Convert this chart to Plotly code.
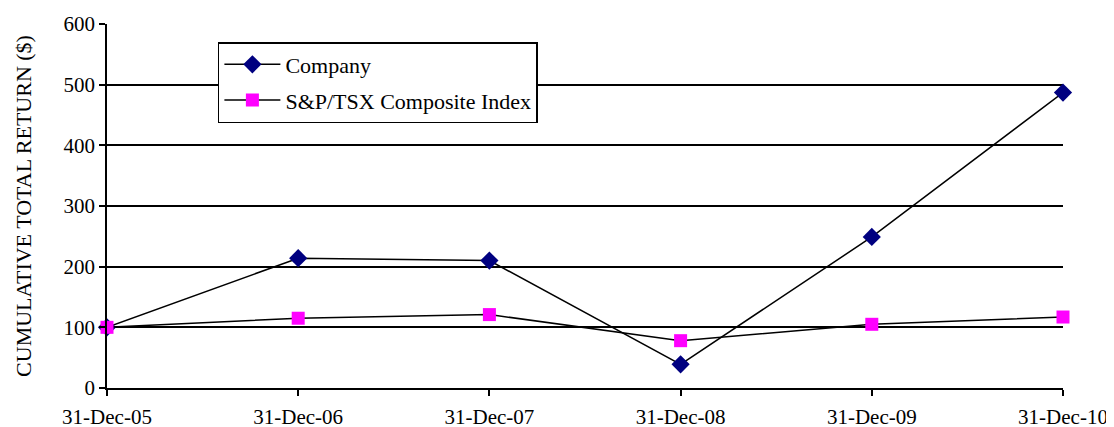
import plotly.graph_objects as go

dates = ["31-Dec-05", "31-Dec-06", "31-Dec-07", "31-Dec-08", "31-Dec-09", "31-Dec-10"]
company = [100, 214, 210, 39, 249, 487]
index_tsx = [100, 115, 121, 78, 105, 117]
y_ticks = [0, 100, 200, 300, 400, 500, 600]

font_family = "Liberation Serif"

fig = go.Figure()
fig.add_trace(go.Scatter(
    x=dates, y=company, name="Company", mode="lines+markers", legendgroup="a",
    line=dict(color="black", width=1.5),
    marker=dict(symbol="diamond", size=14, color="#000080"),
    cliponaxis=False,
))
fig.add_trace(go.Scatter(
    x=dates, y=index_tsx, name="S&P/TSX Composite Index", mode="lines+markers", legendgroup="b",
    line=dict(color="black", width=1.5),
    marker=dict(symbol="square", size=13, color="#FF00FF"),
    cliponaxis=False,
))

fig.update_layout(
    width=1114, height=427,
    margin=dict(l=99, r=59, t=16, b=47, autoexpand=False),
    paper_bgcolor="white", plot_bgcolor="white",
    font=dict(family=font_family, size=21, color="black"),
    showlegend=True,
    legend=dict(
        x=0.116, y=0.9505, xanchor="left", yanchor="top",
        bordercolor="black", borderwidth=1.5, bgcolor="white",
        font=dict(family=font_family, size=22, color="black"),
        traceorder="grouped", tracegroupgap=4, itemwidth=56,
    ),
)
fig.update_xaxes(
    type="category", range=[0, len(dates) - 1], automargin=False,
    showline=True, linecolor="black", linewidth=1.5,
    ticks="outside", ticklen=6, tickcolor="black", tickwidth=1.5,
    showgrid=False, tickfont=dict(family=font_family, size=21),
    ticklabelstandoff=3,
)
fig.update_yaxes(
    range=[0, 600], tickvals=y_ticks, automargin=False,
    showline=True, linecolor="black", linewidth=1.5,
    ticks="outside", ticklen=6, tickcolor="black", tickwidth=1.5,
    showgrid=True, gridcolor="black", gridwidth=1.5, zeroline=False,
    tickfont=dict(family=font_family, size=21),
    title=dict(text="CUMULATIVE TOTAL RETURN ($)", font=dict(family=font_family, size=22), standoff=26),
)

fig.write_html("out.html")
